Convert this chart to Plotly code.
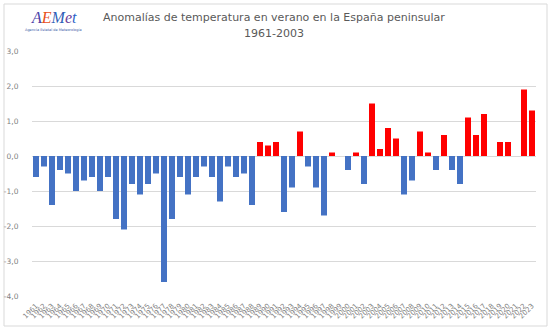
import plotly.graph_objects as go

years = [str(y) for y in range(1961, 2024)]
anomalies = [
    -0.6, -0.3, -1.4, -0.4, -0.5, -1.0, -0.7, -0.6, -1.0, -0.6,
    -1.8, -2.1, -0.8, -1.1, -0.8, -0.5, -3.6, -1.8, -0.6, -1.1,
    -0.6, -0.3, -0.6, -1.3, -0.3, -0.6, -0.5, -1.4, 0.4, 0.3,
    0.4, -1.6, -0.9, 0.7, -0.3, -0.9, -1.7, 0.1, 0.0, -0.4,
    0.1, -0.8, 1.5, 0.2, 0.8, 0.5, -1.1, -0.7, 0.7, 0.1,
    -0.4, 0.6, -0.4, -0.8, 1.1, 0.6, 1.2, 0.0, 0.4, 0.4,
    0.0, 1.9, 1.3,
]
y_tick_vals = [-4, -3, -2, -1, 0, 1, 2, 3]
y_tick_text = ["-4,0", "-3,0", "-2,0", "-1,0", "0,0", "1,0", "2,0", "3,0"]
title_line1 = "Anomalías de temperatura en verano en la España peninsular"
title_line2 = "1961-2003"

colors = ["#FF0000" if v > 0 else "#4472C4" for v in anomalies]

fig = go.Figure(go.Bar(x=years, y=anomalies, marker=dict(color=colors, line=dict(width=0))))

W, H = 551, 335
L, R, T, B = 32, 15, 51, 39
pw, ph = W - L - R, H - T - B

def px_to_paper(x, y):
    return (x - L) / pw, (H - B - y) / ph

x0, y0 = px_to_paper(4, 4)
x1, y1 = px_to_paper(547, 326)

fig.update_layout(
    width=W, height=H,
    margin=dict(l=L, r=R, t=T, b=B),
    paper_bgcolor="white", plot_bgcolor="white",
    bargap=0.25,
    showlegend=False,
    font=dict(family="DejaVu Sans", color="#595959"),
    xaxis=dict(
        type="category", tickangle=-45, tickfont=dict(size=7, color="#7f7f7f"),
        showgrid=False, showline=False, ticks="outside", ticklen=2,
        tickcolor="rgba(0,0,0,0)", automargin=False,
    ),
    yaxis=dict(
        range=[-4, 3], tickvals=y_tick_vals, ticktext=y_tick_text,
        tickfont=dict(size=7.5, color="#7f7f7f"),
        showgrid=True, gridcolor="#d9d9d9", gridwidth=1,
        zeroline=True, zerolinecolor="#d9d9d9", zerolinewidth=1,
        ticks="outside", ticklen=11, tickcolor="rgba(0,0,0,0)", automargin=False,
    ),
    shapes=[dict(type="rect", xref="paper", yref="paper", x0=x0, y0=y1, x1=x1, y1=y0,
                 line=dict(color="#d9d9d9", width=1), fillcolor="rgba(0,0,0,0)", layer="below")],
)

tx, ty = px_to_paper(274, 18)
fig.add_annotation(x=tx, y=ty, xref="paper", yref="paper", text=title_line1, showarrow=False,
                   font=dict(size=11, color="#595959", family="DejaVu Sans"), xanchor="center", yanchor="middle")
tx, ty = px_to_paper(274, 33)
fig.add_annotation(x=tx, y=ty, xref="paper", yref="paper", text=title_line2, showarrow=False,
                   font=dict(size=11, color="#595959", family="DejaVu Sans"), xanchor="center", yanchor="middle")

lx, ly = px_to_paper(54, 18)
fig.add_annotation(x=lx, y=ly, xref="paper", yref="paper", showarrow=False,
                   text="<i><span style='color:#4a3fa8'>A</span><span style='color:#e8501a'>E</span>"
                        "<span style='color:#2f5fb8'>M</span><span style='color:#6a3d9a'>e</span>"
                        "<span style='color:#2a62c9'>t</span></i>",
                   font=dict(size=16, family="Liberation Serif"), xanchor="center", yanchor="middle")
sx, sy = px_to_paper(53, 30)
fig.add_annotation(x=sx, y=sy, xref="paper", yref="paper", showarrow=False,
                   text="Agencia Estatal de Meteorología",
                   font=dict(size=3.5, color="#3b5ba8"), xanchor="center", yanchor="middle")

fig.write_html("out.html")
